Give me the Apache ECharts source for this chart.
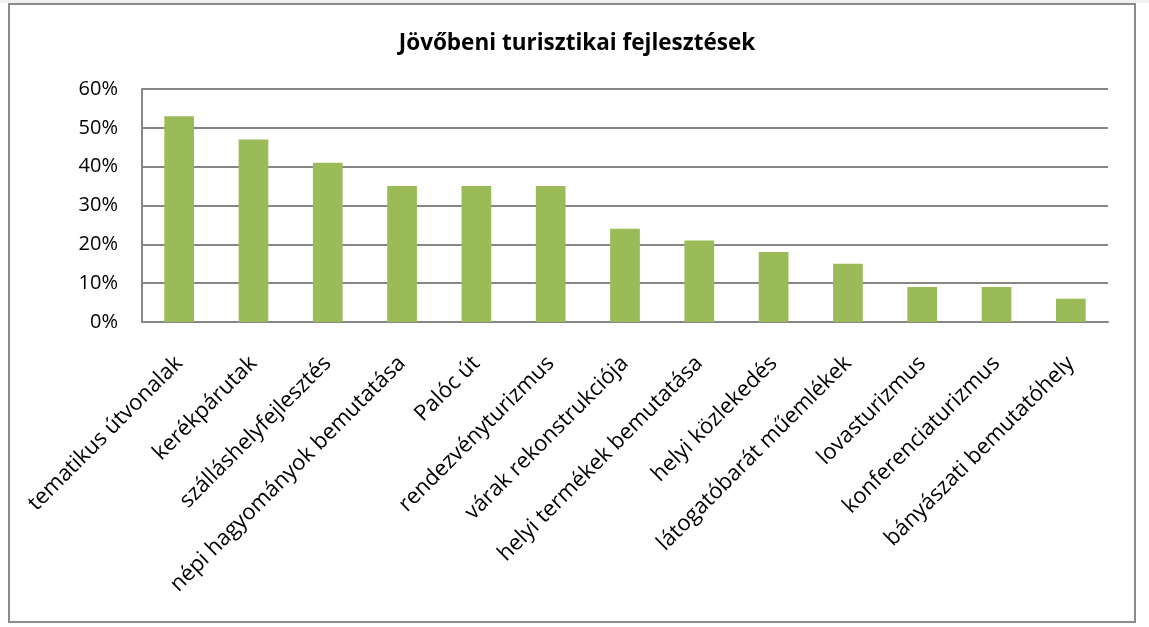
<!DOCTYPE html>
<html><head><meta charset="utf-8">
<script src="https://cdn.jsdelivr.net/npm/echarts@6/dist/echarts.min.js"></script>
<style>html,body{margin:0;padding:0;background:#fff;}#c{width:1149px;height:627px;}</style>
</head><body><div id="c"></div>
<script>
var categories = ['tematikus útvonalak','kerékpárutak','szálláshelyfejlesztés','népi hagyományok bemutatása','Palóc út','rendezvényturizmus','várak rekonstrukciója','helyi termékek bemutatása','helyi közlekedés','látogatóbarát műemlékek','lovasturizmus','konferenciaturizmus','bányászati bemutatóhely'];
var values = [53,47,41,35,35,35,24,21,18,15,9,9,6];
var yTicks = [0,10,20,30,40,50,60];

var chart = echarts.init(document.getElementById('c'), null, {renderer:'canvas'});
chart.setOption({
  animation:false,
  title:{text:'Jövőbeni turisztikai fejlesztések',left:572,textAlign:'center',top:27,
    textStyle:{fontFamily:'Open Sans',fontSize:22.5,fontWeight:'bold',color:'#000'}},
  graphic:[
    {type:'rect',shape:{x:0,y:0,width:1149,height:3},style:{fill:'#f0f0f0'},silent:true},
    {type:'rect',shape:{x:9,y:4,width:1126,height:618},style:{fill:'none',stroke:'#8c8c8c',lineWidth:2},silent:true}],
  grid:{left:142,right:41,top:89,bottom:305,containLabel:false},
  xAxis:{type:'category',data:categories,
    axisLine:{lineStyle:{color:'#868686',width:2}},
    axisTick:{show:false},
    axisLabel:{rotate:45,interval:0,fontFamily:'Open Sans',fontSize:22,color:'#000',margin:38}},
  yAxis:{type:'value',min:0,max:60,interval:10,
    axisLine:{show:true,lineStyle:{color:'#868686',width:2}},
    axisTick:{show:false},
    splitLine:{lineStyle:{color:'#868686',width:2}},
    axisLabel:{formatter:function(v){return v+'%';},fontFamily:'Open Sans',fontSize:20,color:'#000',margin:24}},
  series:[{type:'bar',data:values,barWidth:'40%',itemStyle:{color:'#9bbb59'}}]
});
</script></body></html>
